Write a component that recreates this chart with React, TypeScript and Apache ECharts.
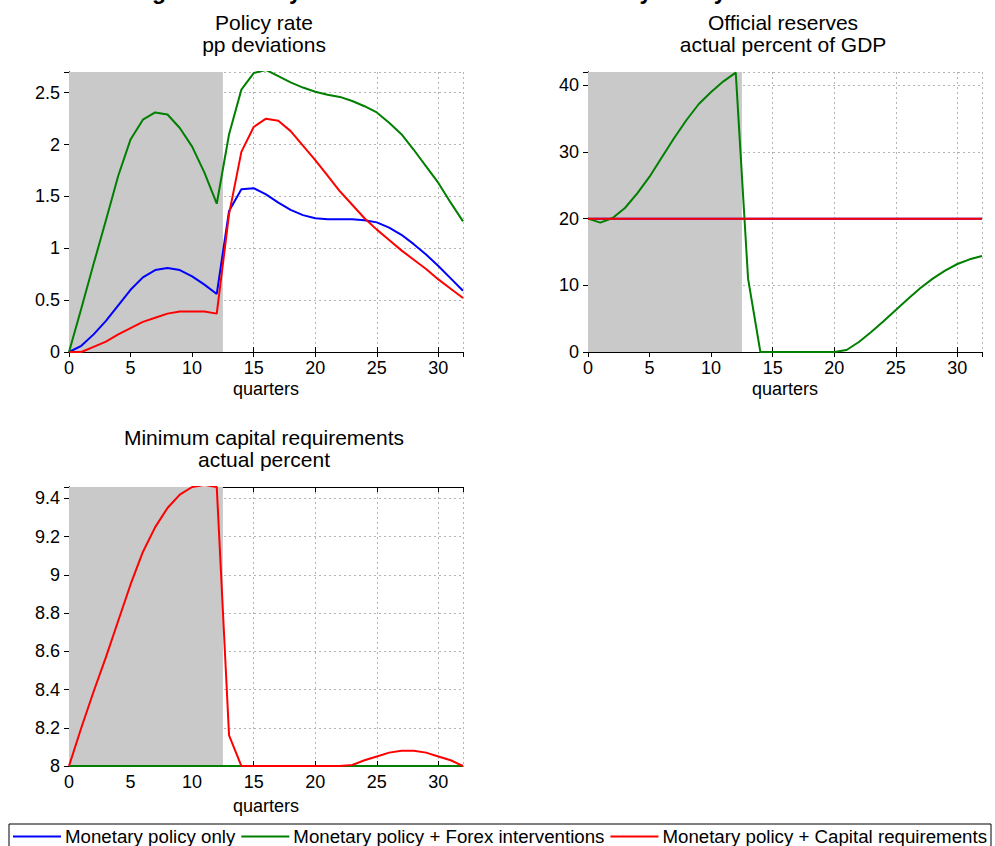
import React, { useEffect, useRef } from "react";
import * as echarts from "echarts";

const QUARTERS = [0, 1, 2, 3, 4, 5, 6, 7, 8, 9, 10, 11, 12, 13, 14, 15, 16, 17, 18, 19, 20, 21, 22, 23, 24, 25, 26, 27, 28, 29, 30, 31, 32];
const SHADE_END = 12.5;

const SERIES_NAMES = [
  "Monetary policy only",
  "Monetary policy + Forex interventions",
  "Monetary policy + Capital requirements",
];
const SERIES_COLORS = ["#0000ff", "#007f00", "#ff0000"];

// Panel 1: Policy rate, pp deviations
const rateMonetary = [0, 0.06, 0.17, 0.3, 0.45, 0.6, 0.72, 0.79, 0.81, 0.79, 0.73, 0.65, 0.56, 1.36, 1.57, 1.58, 1.52, 1.44, 1.37, 1.32, 1.29, 1.28, 1.28, 1.28, 1.27, 1.25, 1.2, 1.13, 1.04, 0.94, 0.83, 0.71, 0.59];
const rateForex = [0, 0.42, 0.85, 1.27, 1.7, 2.05, 2.24, 2.31, 2.29, 2.16, 1.98, 1.73, 1.43, 2.1, 2.53, 2.69, 2.72, 2.66, 2.6, 2.55, 2.51, 2.48, 2.46, 2.42, 2.37, 2.31, 2.21, 2.1, 1.95, 1.79, 1.63, 1.44, 1.26];
const rateCapital = [0, 0, 0.05, 0.1, 0.17, 0.23, 0.29, 0.33, 0.37, 0.39, 0.39, 0.39, 0.37, 1.33, 1.93, 2.17, 2.25, 2.23, 2.13, 1.99, 1.85, 1.7, 1.55, 1.42, 1.29, 1.18, 1.08, 0.98, 0.89, 0.8, 0.7, 0.61, 0.52];

// Panel 2: Official reserves, actual percent of GDP
const reservesMonetary = [20, 20, 20, 20, 20, 20, 20, 20, 20, 20, 20, 20, 20, 20, 20, 20, 20, 20, 20, 20, 20, 20, 20, 20, 20, 20, 20, 20, 20, 20, 20, 20, 20];
const reservesForex = [20, 19.4, 20.1, 21.6, 23.8, 26.3, 29.2, 32.1, 34.8, 37.2, 39.0, 40.6, 41.9, 11.0, 0, 0, 0, 0, 0, 0, 0, 0.3, 1.5, 3.0, 4.6, 6.3, 8.0, 9.6, 11.0, 12.2, 13.2, 13.9, 14.4];
const reservesCapital = [20, 20, 20, 20, 20, 20, 20, 20, 20, 20, 20, 20, 20, 20, 20, 20, 20, 20, 20, 20, 20, 20, 20, 20, 20, 20, 20, 20, 20, 20, 20, 20, 20];

// Panel 3: Minimum capital requirements, actual percent
const capMonetary = [8, 8, 8, 8, 8, 8, 8, 8, 8, 8, 8, 8, 8, 8, 8, 8, 8, 8, 8, 8, 8, 8, 8, 8, 8, 8, 8, 8, 8, 8, 8, 8, 8];
const capForex = [8, 8, 8, 8, 8, 8, 8, 8, 8, 8, 8, 8, 8, 8, 8, 8, 8, 8, 8, 8, 8, 8, 8, 8, 8, 8, 8, 8, 8, 8, 8, 8, 8];
const capCapital = [8, 8.2, 8.39, 8.57, 8.76, 8.95, 9.12, 9.25, 9.35, 9.42, 9.46, 9.47, 9.46, 8.16, 8, 8, 8, 8, 8, 8, 8, 8, 8, 8.005, 8.03, 8.05, 8.07, 8.08, 8.08, 8.07, 8.05, 8.03, 8.0];

const FIGURE_TITLE = "Figure 4. Policy Mix Under Alternative Monetary Policy Frameworks";

const FONT = '"Liberation Sans", Arial, Helvetica, sans-serif';

const PANELS = [
  {
    title: ["Policy rate", "pp deviations"],
    data: [rateMonetary, rateForex, rateCapital],
    yMin: 0, yMax: 2.7, yInterval: 0.5,
    grid: { left: 69, top: 72, width: 394, height: 280 },
    nameGap: 28,
  },
  {
    title: ["Official reserves", "actual percent of GDP"],
    data: [reservesMonetary, reservesForex, reservesCapital],
    yMin: 0, yMax: 42, yInterval: 10,
    grid: { left: 588, top: 72, width: 394, height: 280 },
    nameGap: 28,
  },
  {
    title: ["Minimum capital requirements", "actual percent"],
    data: [capMonetary, capForex, capCapital],
    yMin: 8, yMax: 9.46, yInterval: 0.2,
    grid: { left: 69, top: 487, width: 394, height: 279 },
    nameGap: 31,
  },
];

export default function App() {
  const ref = useRef<HTMLDivElement>(null);

  useEffect(() => {
    if (!ref.current) return;
    const chart = echarts.init(ref.current, undefined, { renderer: "svg" });

    const grids: any[] = [];
    const xAxes: any[] = [];
    const yAxes: any[] = [];
    const series: any[] = [];
    const graphics: any[] = [];

    const tickStyle = { show: true, inside: true, length: 5, lineStyle: { color: "#000", width: 1 } };
    const lineStyle = { show: true, lineStyle: { color: "#000", width: 1 } };
    const split = { show: true, lineStyle: { color: "#b4b4b4", type: [2, 3], width: 1 } };
    const labelStyle = { color: "#000", fontSize: 18, fontFamily: FONT };

    PANELS.forEach((p, gi) => {
      grids.push({ ...p.grid, containLabel: false, show: false });
      const xBase = { type: "value", gridIndex: gi, min: 0, max: 32, interval: 5 };
      const yBase = { type: "value", gridIndex: gi, min: p.yMin, max: p.yMax, interval: p.yInterval };
      xAxes.push({
        ...xBase,
        position: "bottom",
        axisLine: lineStyle,
        axisTick: tickStyle,
        splitLine: split,
        axisLabel: { ...labelStyle, margin: 7, showMaxLabel: false },
        name: "quarters",
        nameLocation: "middle",
        nameGap: p.nameGap,
        nameTextStyle: { color: "#000", fontSize: 18, fontFamily: FONT },
      });
      xAxes.push({
        ...xBase,
        position: "top",
        axisLine: lineStyle,
        axisTick: tickStyle,
        splitLine: { show: false },
        axisLabel: { show: false },
      });
      yAxes.push({
        ...yBase,
        position: "left",
        axisLine: lineStyle,
        axisTick: tickStyle,
        splitLine: split,
        axisLabel: { ...labelStyle, margin: 9, showMaxLabel: false },
      });
      yAxes.push({
        ...yBase,
        position: "right",
        axisLine: lineStyle,
        axisTick: tickStyle,
        splitLine: { show: false },
        axisLabel: { show: false },
      });

      p.data.forEach((arr, si) => {
        series.push({
          type: "line",
          name: SERIES_NAMES[si],
          xAxisIndex: gi * 2,
          yAxisIndex: gi * 2,
          data: QUARTERS.map((q, i) => [q, arr[i]]),
          showSymbol: false,
          symbol: "none",
          lineStyle: { color: SERIES_COLORS[si], width: 2 },
          itemStyle: { color: SERIES_COLORS[si] },
          z: 3 + si,
          markArea:
            si === 0
              ? {
                  silent: true,
                  itemStyle: { color: "#c9c9c9" },
                  data: [[{ xAxis: 0 }, { xAxis: SHADE_END }]],
                }
              : undefined,
        });
      });

      const cx = p.grid.left + p.grid.width / 2 - 2;
      p.title.forEach((t, li) => {
        graphics.push({
          type: "text",
          x: cx,
          y: p.grid.top - 50 + li * 22,
          style: {
            text: t,
            font: `21px ${FONT}`,
            fill: "#000",
            textAlign: "center",
            textVerticalAlign: "middle",
          },
        });
      });
    });

    graphics.push({
      type: "text",
      x: 500,
      y: 2.5,
      style: {
        text: FIGURE_TITLE,
        font: `bold 23px ${FONT}`,
        fill: "#000",
        textAlign: "center",
        textVerticalAlign: "bottom",
      },
    });

    chart.setOption({
      animation: false,
      backgroundColor: "#ffffff",
      grid: grids,
      xAxis: xAxes,
      yAxis: yAxes,
      series,
      graphic: graphics,
      legend: {
        data: SERIES_NAMES.map((n, i) => ({ name: n, icon: "rect", itemStyle: { color: SERIES_COLORS[i] } })),
        left: 9,
        top: 824,
        itemWidth: 48,
        itemHeight: 2,
        itemGap: 6,
        padding: [3, 4, 8, 4],
        borderColor: "#000",
        borderWidth: 1,
        textStyle: { color: "#000", fontSize: 18.7, fontFamily: FONT, padding: [0, 0, 0, -1] },
      },
    });

    return () => chart.dispose();
  }, []);

  return (
    <div
      ref={ref}
      style={{ position: "fixed", left: 0, top: 0, width: 995, height: 846, background: "#fff" }}
    />
  );
}
